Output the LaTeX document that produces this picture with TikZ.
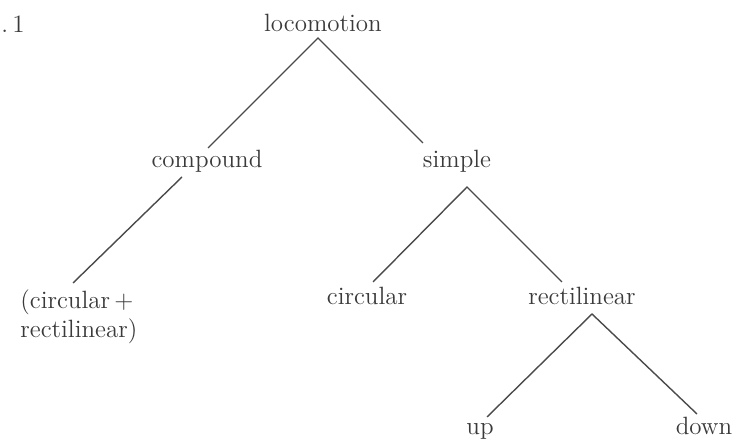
\documentclass[tikz,border=0pt]{standalone}
\usepackage{xcolor}
\usepackage{tikz}
\usetikzlibrary{positioning}

\definecolor{inkgray}{HTML}{3A3A3A}
\definecolor{linegray}{HTML}{4A4A4A}

\begin{document}
\begin{tikzpicture}[
  x=0.5pt, y=-0.5pt,
  every node/.style={font=\fontsize{12.5}{14.5}\selectfont, text=inkgray, inner sep=0pt},
  term/.style={anchor=base},
  branch/.style={draw=linegray, line width=0.7pt},
]
 \useasboundingbox (0,0) rectangle (740,448);

 % ---- labels ----
 \node[anchor=base west] (fig) at (1,33) {.\,1};
 \node[term] (loco) at (323,32) {locomotion};
 \node[term] (comp) at (207,168) {compound};
 \node[term] (simple) at (457,168) {simple};
 \node[anchor=north west, align=left] (mixed) at (20,289) {(circular\,+\\rectilinear)};
 \node[term] (circ) at (367,305) {circular};
 \node[term] (rect) at (582,305) {rectilinear};
 \node[term] (up) at (480,435) {up};
 \node[term] (down) at (704,435) {down};

 % ---- branches ----
 \draw[branch] ([shift={(1,-20)}]comp.base) -- ([shift={(-5,6)}]loco.base) -- ([shift={(-34,-25)}]simple.base);
 \draw[branch] ([shift={(-25,9)}]comp.base) -- ([shift={(53,-6)}]mixed.north west);
 \draw[branch] ([shift={(6,-23)}]circ.base) -- ([shift={(10,19)}]simple.base) -- ([shift={(-20,-23)}]rect.base);
 \draw[branch] ([shift={(7,-18)}]up.base) -- ([shift={(10,9)}]rect.base) -- ([shift={(-7,-21)}]down.base);

\end{tikzpicture}
\end{document}
